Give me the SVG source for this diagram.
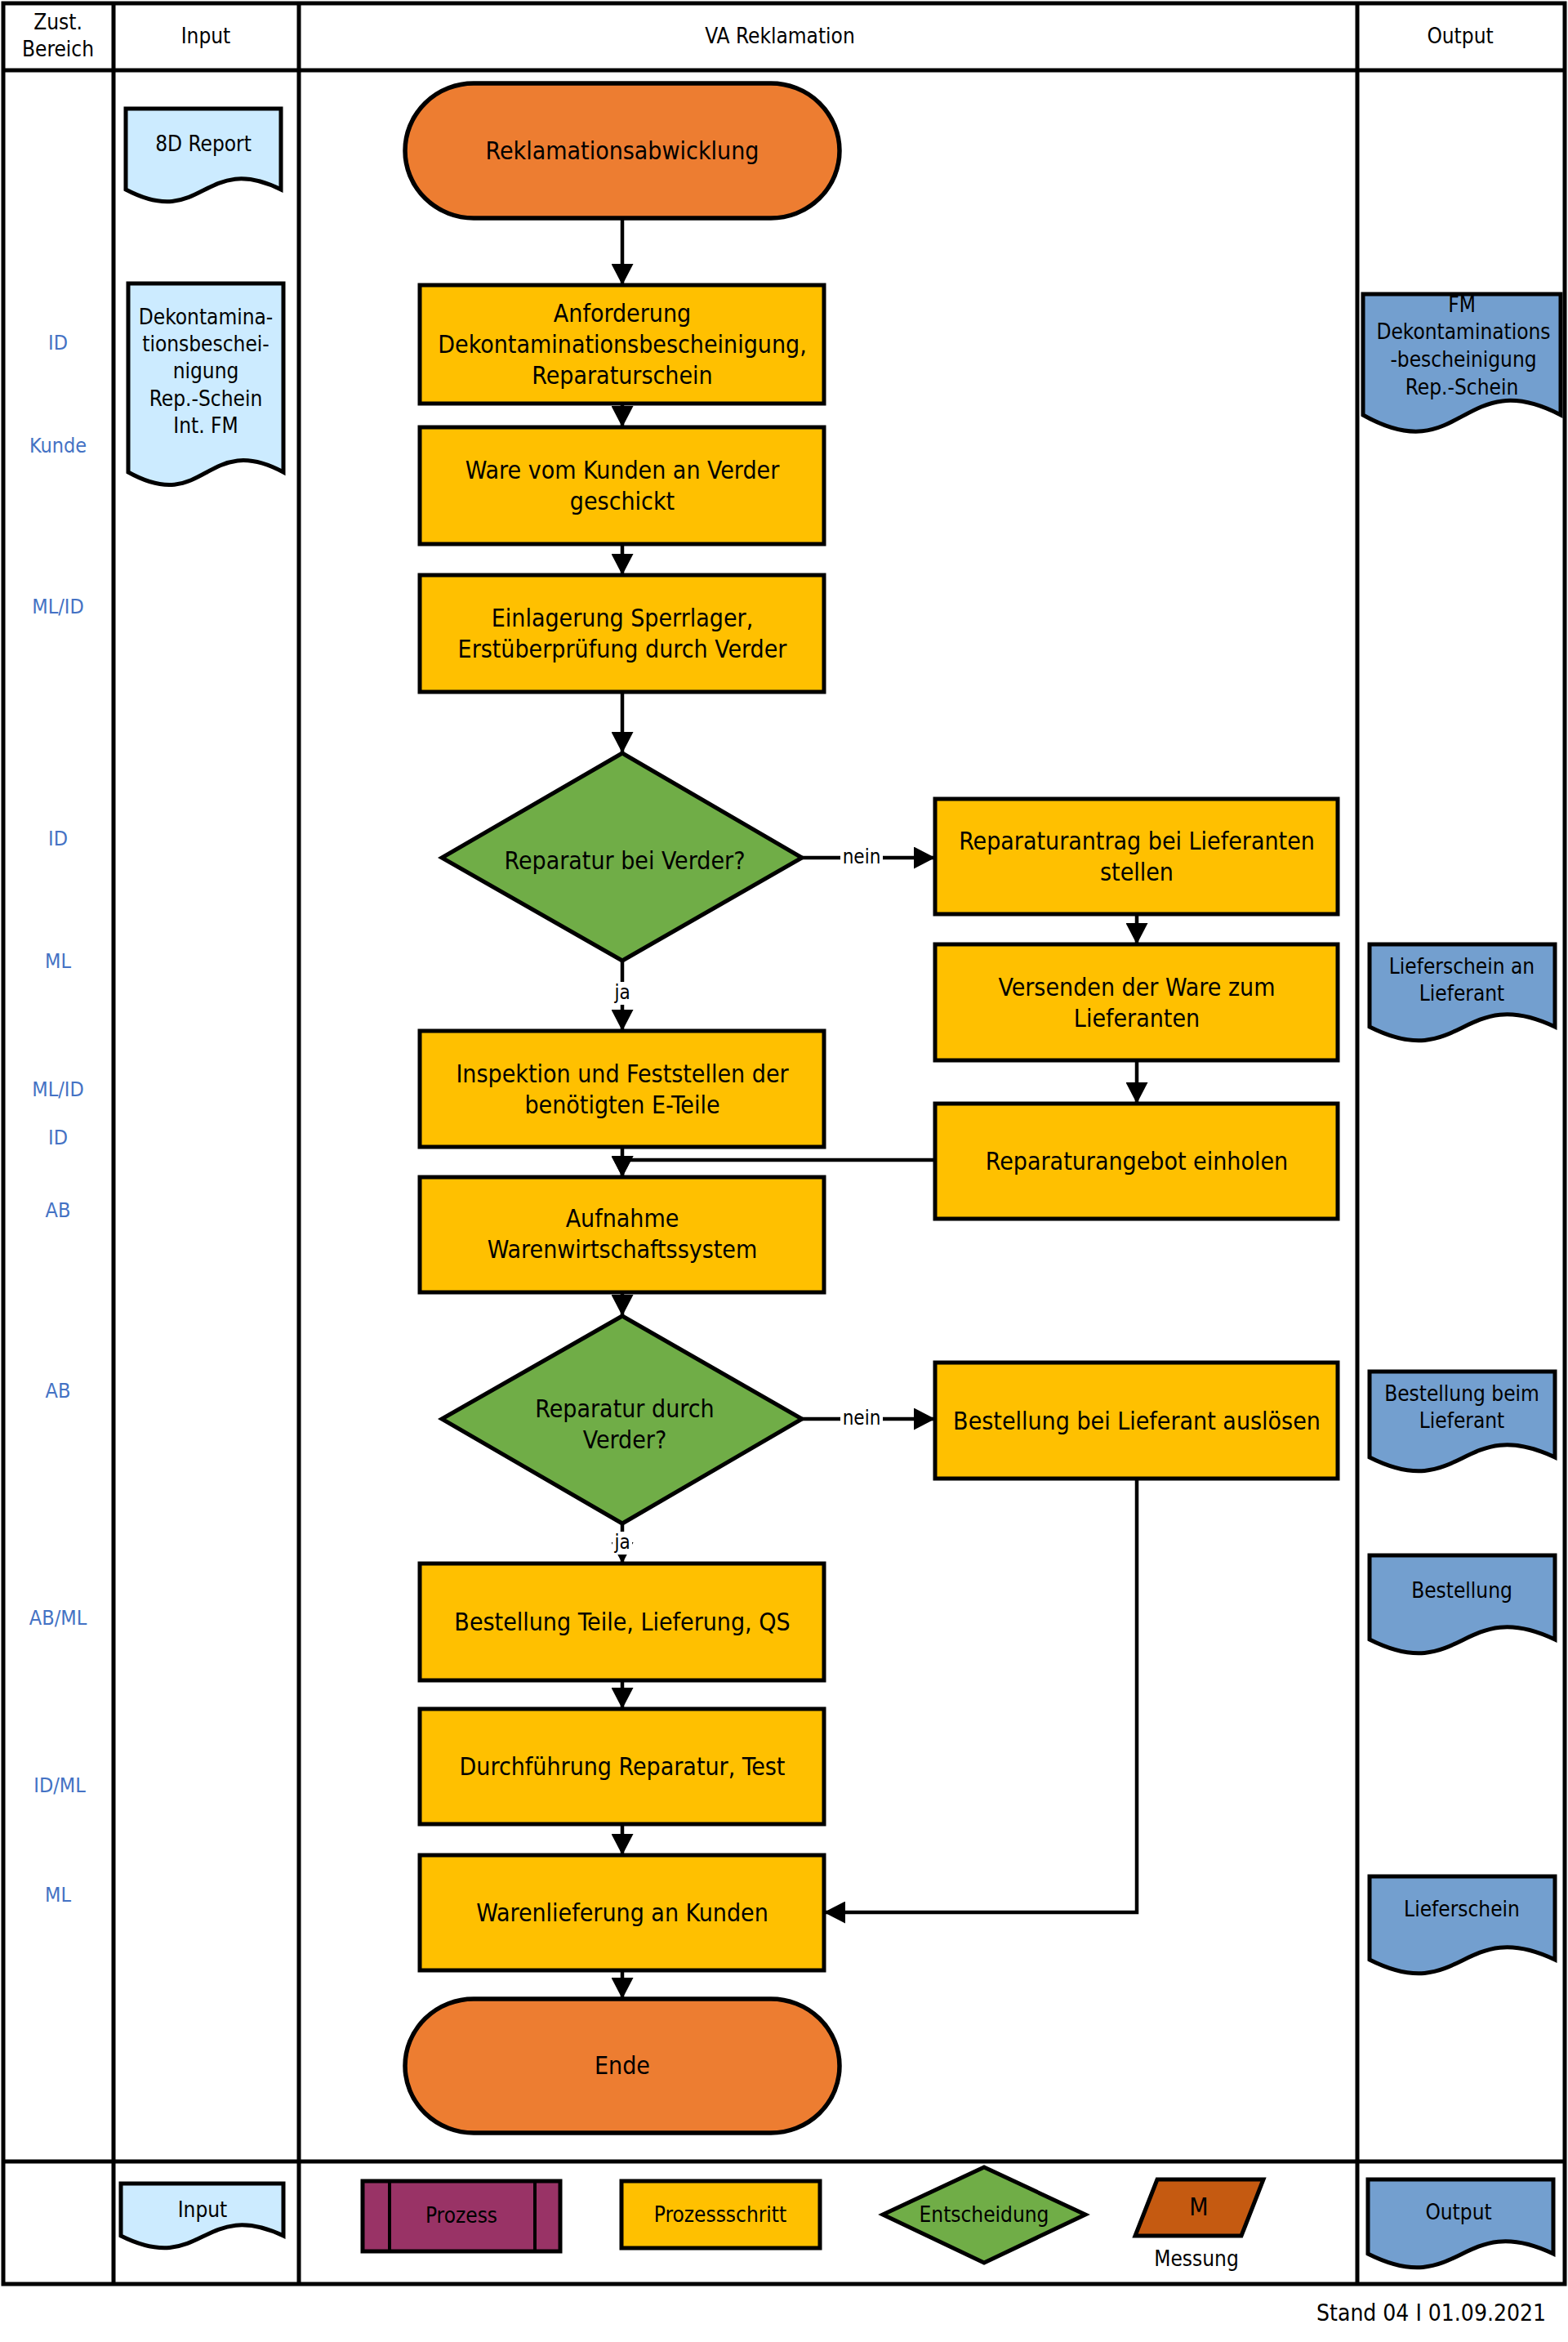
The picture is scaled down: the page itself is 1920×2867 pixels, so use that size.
<svg xmlns="http://www.w3.org/2000/svg" width="1920" height="2867" viewBox="0 0 1920 2867">
<defs>
<style>
text{font-family:"DejaVu Sans Condensed","DejaVu Sans",sans-serif;font-stretch:condensed;fill:#000;text-anchor:middle;dominant-baseline:central}
.t{font-size:30px}
.s{font-size:26px}
.lbl{font-size:25px;fill:#4472C4}
.cl{font-size:24px}
.grid{stroke:#000;stroke-width:5;fill:none}
.box{fill:#FFC000;stroke:#000;stroke-width:5}
.term{fill:#ED7D31;stroke:#000;stroke-width:5.5}
.dia{fill:#70AD47;stroke:#000;stroke-width:5}
.din{fill:#CCEBFF;stroke:#000;stroke-width:5}
.dout{fill:#739FCF;stroke:#000;stroke-width:5}
.con{stroke:#000;stroke-width:4.5;fill:none}
</style>
<marker id="ah" viewBox="0 0 26 27" refX="26" refY="13.5" markerWidth="26" markerHeight="27" markerUnits="userSpaceOnUse" orient="auto">
<path d="M0,0 L26,13.5 L0,27 Z" fill="#000"/>
</marker>
</defs>
<rect width="1920" height="2867" fill="#fff"/>
<g id="table">
<rect class="grid" x="4" y="4" width="1912" height="2792"/>
<line class="grid" x1="139" y1="4" x2="139" y2="2796"/>
<line class="grid" x1="366" y1="4" x2="366" y2="2796"/>
<line class="grid" x1="1662" y1="4" x2="1662" y2="2796"/>
<line class="grid" x1="4" y1="86" x2="1916" y2="86" stroke-width="6"/>
<line class="grid" x1="4" y1="2646" x2="1916" y2="2646"/>
<text class="s" x="71" y="27">Zust.</text>
<text class="s" x="71" y="60">Bereich</text>
<text class="s" x="252" y="44">Input</text>
<text class="s" x="955" y="44">VA Reklamation</text>
<text class="s" x="1788" y="44">Output</text>
</g>
<g id="labels">
<text class="lbl" x="71" y="419">ID</text>
<text class="lbl" x="71" y="545">Kunde</text>
<text class="lbl" x="71" y="742">ML/ID</text>
<text class="lbl" x="71" y="1026">ID</text>
<text class="lbl" x="71" y="1176">ML</text>
<text class="lbl" x="71" y="1333">ML/ID</text>
<text class="lbl" x="71" y="1392">ID</text>
<text class="lbl" x="71" y="1481">AB</text>
<text class="lbl" x="71" y="1702">AB</text>
<text class="lbl" x="71" y="1980">AB/ML</text>
<text class="lbl" x="73" y="2185">ID/ML</text>
<text class="lbl" x="71" y="2319">ML</text>
</g>
<g id="connectors">
<line class="con" x1="762" y1="267" x2="762" y2="349" marker-end="url(#ah)"/>
<line class="con" x1="762" y1="494" x2="762" y2="523" marker-end="url(#ah)"/>
<line class="con" x1="762" y1="666" x2="762" y2="704" marker-end="url(#ah)"/>
<line class="con" x1="762" y1="847" x2="762" y2="922" marker-end="url(#ah)"/>
<line class="con" x1="982" y1="1050" x2="1145" y2="1050" marker-end="url(#ah)"/>
<line class="con" x1="1392" y1="1119" x2="1392" y2="1156" marker-end="url(#ah)"/>
<line class="con" x1="1392" y1="1298" x2="1392" y2="1351" marker-end="url(#ah)"/>
<line class="con" x1="762" y1="1176" x2="762" y2="1262" marker-end="url(#ah)"/>
<line class="con" x1="762" y1="1404" x2="762" y2="1441" marker-end="url(#ah)"/>
<path class="con" d="M1145,1420 H762 V1441" marker-end="url(#ah)"/>
<line class="con" x1="762" y1="1582" x2="762" y2="1611" marker-end="url(#ah)"/>
<line class="con" x1="982" y1="1737" x2="1145" y2="1737" marker-end="url(#ah)"/>
<line class="con" x1="762" y1="1865" x2="762" y2="1914" marker-end="url(#ah)"/>
<line class="con" x1="762" y1="2057" x2="762" y2="2092" marker-end="url(#ah)"/>
<line class="con" x1="762" y1="2233" x2="762" y2="2271" marker-end="url(#ah)"/>
<path class="con" d="M1392,1810 V2341 H1009" marker-end="url(#ah)"/>
<line class="con" x1="762" y1="2412" x2="762" y2="2447" marker-end="url(#ah)"/>
<rect x="1029" y="1036" width="52" height="28" fill="#fff"/>
<text class="cl" x="1055" y="1049">nein</text>
<rect x="1029" y="1723" width="52" height="28" fill="#fff"/>
<text class="cl" x="1055" y="1736">nein</text>
<rect x="750" y="1202" width="24" height="28" fill="#fff"/>
<text class="cl" x="762" y="1215">ja</text>
<rect x="750" y="1875" width="24" height="28" fill="#fff"/>
<text class="cl" x="762" y="1888">ja</text>
</g>
<g id="start">
<path class="term" d="M580,102 H944 A84 82.5 0 0 1 944,267 H580 A84 82.5 0 0 1 580,102 Z"/>
<text class="t" x="762" y="184">Reklamationsabwicklung</text>
</g>
<g id="box1">
<rect class="box" x="514" y="349" width="495" height="145"/>
<text class="t" x="762" y="383">Anforderung</text>
<text class="t" x="762" y="421">Dekontaminationsbescheinigung,</text>
<text class="t" x="762" y="459">Reparaturschein</text>
</g>
<g id="box2">
<rect class="box" x="514" y="523" width="495" height="143"/>
<text class="t" x="762" y="575">Ware vom Kunden an Verder</text>
<text class="t" x="762" y="613">geschickt</text>
</g>
<g id="box3">
<rect class="box" x="514" y="704" width="495" height="143"/>
<text class="t" x="762" y="756">Einlagerung Sperrlager,</text>
<text class="t" x="762" y="794">Erstüberprüfung durch Verder</text>
</g>
<g id="dec1">
<polygon class="dia" points="762,922 982,1050 762,1176 541,1050"/>
<text class="t" x="765" y="1053">Reparatur bei Verder?</text>
</g>
<g id="r1">
<rect class="box" x="1145" y="978" width="493" height="141"/>
<text class="t" x="1392" y="1029">Reparaturantrag bei Lieferanten</text>
<text class="t" x="1392" y="1067">stellen</text>
</g>
<g id="r2">
<rect class="box" x="1145" y="1156" width="493" height="142"/>
<text class="t" x="1392" y="1208">Versenden der Ware zum</text>
<text class="t" x="1392" y="1246">Lieferanten</text>
</g>
<g id="r3">
<rect class="box" x="1145" y="1351" width="493" height="141"/>
<text class="t" x="1392" y="1421">Reparaturangebot einholen</text>
</g>
<g id="box4">
<rect class="box" x="514" y="1262" width="495" height="142"/>
<text class="t" x="762" y="1314">Inspektion und Feststellen der</text>
<text class="t" x="762" y="1352">benötigten E-Teile</text>
</g>
<g id="box5">
<rect class="box" x="514" y="1441" width="495" height="141"/>
<text class="t" x="762" y="1491">Aufnahme</text>
<text class="t" x="762" y="1529">Warenwirtschaftssystem</text>
</g>
<g id="dec2">
<polygon class="dia" points="762,1611 982,1737 762,1865 541,1737"/>
<text class="t" x="765" y="1724">Reparatur durch</text>
<text class="t" x="765" y="1762">Verder?</text>
</g>
<g id="r4">
<rect class="box" x="1145" y="1668" width="493" height="142"/>
<text class="t" x="1392" y="1739">Bestellung bei Lieferant auslösen</text>
</g>
<g id="box6">
<rect class="box" x="514" y="1914" width="495" height="143"/>
<text class="t" x="762" y="1985">Bestellung Teile, Lieferung, QS</text>
</g>
<g id="box7">
<rect class="box" x="514" y="2092" width="495" height="141"/>
<text class="t" x="762" y="2162">Durchführung Reparatur, Test</text>
</g>
<g id="box8">
<rect class="box" x="514" y="2271" width="495" height="141"/>
<text class="t" x="762" y="2341">Warenlieferung an Kunden</text>
</g>
<g id="end">
<path class="term" d="M580,2447 H944 A84 82 0 0 1 944,2611 H580 A84 82 0 0 1 580,2447 Z"/>
<text class="t" x="762" y="2528">Ende</text>
</g>
<g id="in1">
<path class="din" d="M154,133 H344 V232 C249,185 249,282 154,232 Z"/>
<text class="s" x="249" y="176">8D Report</text>
</g>
<g id="in2">
<path class="din" d="M157,347 H347 V578 C252,527 252,631 157,578 Z"/>
<text class="s" x="252" y="388">Dekontamina-</text>
<text class="s" x="252" y="421">tionsbeschei-</text>
<text class="s" x="252" y="454">nigung</text>
<text class="s" x="252" y="488">Rep.-Schein</text>
<text class="s" x="252" y="521">Int. FM</text>
</g>
<g id="out1">
<path class="dout" d="M1669,360 H1911 V508 C1790,445 1790,576 1669,508 Z"/>
<text class="s" x="1790" y="373">FM</text>
<text class="s" x="1792" y="406">Dekontaminations</text>
<text class="s" x="1792" y="440">-bescheinigung</text>
<text class="s" x="1790" y="474">Rep.-Schein</text>
</g>
<g id="out2">
<path class="dout" d="M1677,1156 H1904 V1257 C1790,1203 1790,1314 1677,1257 Z"/>
<text class="s" x="1790" y="1183">Lieferschein an</text>
<text class="s" x="1790" y="1216">Lieferant</text>
</g>
<g id="out3">
<path class="dout" d="M1677,1679 H1904 V1784 C1790,1730 1790,1841 1677,1784 Z"/>
<text class="s" x="1790" y="1706">Bestellung beim</text>
<text class="s" x="1790" y="1739">Lieferant</text>
</g>
<g id="out4">
<path class="dout" d="M1677,1904 H1904 V2007 C1790,1953 1790,2064 1677,2007 Z"/>
<text class="s" x="1790" y="1947">Bestellung</text>
</g>
<g id="out5">
<path class="dout" d="M1677,2297 H1904 V2399 C1790,2345 1790,2456 1677,2399 Z"/>
<text class="s" x="1790" y="2337">Lieferschein</text>
</g>
<g id="legend">
<path class="din" d="M148,2673 H347 V2737 C248,2690 248,2787 148,2737 Z"/>
<text class="s" x="248" y="2705">Input</text>
<rect x="444" y="2670" width="242" height="86" fill="#993366" stroke="#000" stroke-width="5"/>
<line x1="477" y1="2670" x2="477" y2="2756" stroke="#000" stroke-width="4"/>
<line x1="655" y1="2670" x2="655" y2="2756" stroke="#000" stroke-width="4"/>
<text class="s" x="565" y="2712">Prozess</text>
<rect class="box" x="761" y="2670" width="243" height="82"/>
<text class="s" x="882" y="2711">Prozessschritt</text>
<polygon class="dia" points="1205,2653 1329,2711 1205,2770 1081,2711"/>
<text class="s" x="1205" y="2711">Entscheidung</text>
<polygon points="1417,2668 1547,2668 1520,2737 1390,2737" fill="#C55A11" stroke="#000" stroke-width="5"/>
<text class="s" x="1468" y="2701" style="font-size:30px">M</text>
<text class="s" x="1465" y="2765">Messung</text>
<path class="dout" d="M1675,2668 H1902 V2759 C1788,2705 1788,2816 1675,2759 Z"/>
<text class="s" x="1786" y="2708">Output</text>
</g>
<text class="s" x="1893" y="2831" style="text-anchor:end;font-size:28px">Stand 04 I 01.09.2021</text>
</svg>
